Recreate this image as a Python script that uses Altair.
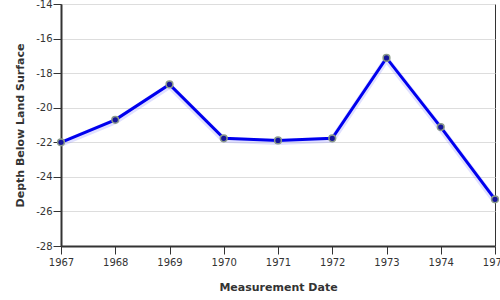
import altair as alt
import pandas as pd

years = [1967, 1968, 1969, 1970, 1971, 1972, 1973, 1974, 1975]
depth = [-22.0, -20.7, -18.65, -21.77, -21.89, -21.77, -17.12, -21.12, -25.3]

df = pd.DataFrame({"year": years, "depth": depth})

xenc = alt.X("year:Q", title="Measurement Date",
             scale=alt.Scale(domain=[1967, 1975], nice=False, zero=False),
             axis=alt.Axis(values=years, format="d", grid=False, tickSize=8,
                           labelPadding=3, titlePadding=14, labelFlush=False,
                           labelOverlap=False, labelBound=False))
yenc = alt.Y("depth:Q", title="Depth Below Land Surface",
             scale=alt.Scale(domain=[-28, -14], nice=False, zero=False),
             axis=alt.Axis(values=list(range(-28, -13, 2)), grid=True, tickSize=8,
                           labelPadding=1, titlePadding=10, labelFlush=False,
                           labelExpr="'' + datum.value"))

base = alt.Chart(df).encode(x=xenc, y=yenc)

shadow = base.mark_line(color="#9999ff", strokeWidth=6, opacity=0.3, yOffset=1.5)
line = base.mark_line(color="#0000ee", strokeWidth=3)
pts = base.mark_point(filled=True, size=45, fill="#14149a", stroke="#8a9a8a",
                      strokeWidth=1.5, opacity=1)

chart = (shadow + line + pts).properties(
    width=434, height=242,
    autosize=alt.AutoSizeParams(type="none"),
    padding={"left": 61, "top": 4, "right": 5, "bottom": 54},
    background="white",
).configure_view(stroke="#333333", strokeWidth=1).configure_axis(
    domainColor="#333333", domainWidth=2, tickColor="#333333", tickWidth=1,
    labelColor="#333333", labelFont="DejaVu Sans", labelFontSize=10,
    titleFont="DejaVu Sans", titleFontSize=11, titleFontWeight="bold",
    titleColor="#333333", gridColor="#dddddd", gridWidth=1,
)

chart.save("out.html", embed_options={"renderer": "svg", "actions": False})
